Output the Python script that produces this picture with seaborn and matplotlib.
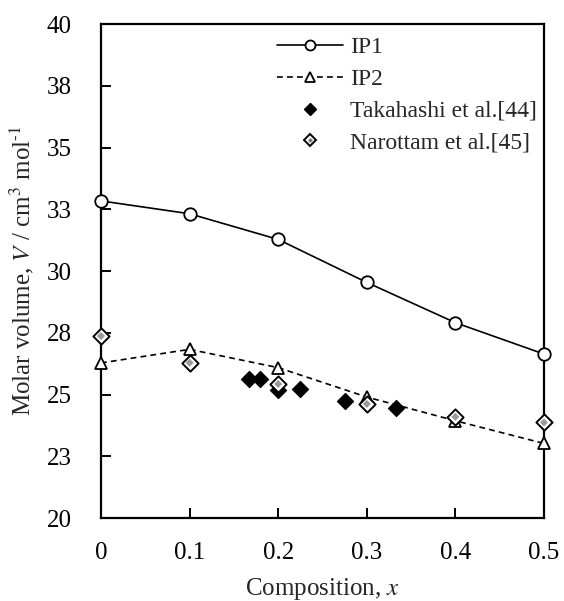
import matplotlib
matplotlib.use("Agg")
import matplotlib.pyplot as plt
from matplotlib.lines import Line2D
from matplotlib.legend_handler import HandlerTuple
import seaborn as sns
import pandas as pd

# Calculated molar volumes
composition = [0.0, 0.1, 0.2, 0.3, 0.4, 0.5]
ip1_volume = [32.84, 32.32, 31.28, 29.54, 27.91, 26.64]
ip2_volume = [26.28, 26.83, 26.09, 24.90, 23.94, 23.02]

# Experimental data
takahashi_x = [0.167, 0.180, 0.200, 0.225, 0.275, 0.333]
takahashi_v = [25.62, 25.62, 25.18, 25.22, 24.74, 24.44]
narottam_x = [0.0, 0.1, 0.2, 0.3, 0.4, 0.5]
narottam_v = [27.37, 26.29, 25.43, 24.62, 24.10, 23.87]

y_ticks = [20, 22.5, 25, 27.5, 30, 32.5, 35, 37.5, 40]
y_tick_labels = ["20", "23", "25", "28", "30", "33", "35", "38", "40"]
x_ticks = [0, 0.1, 0.2, 0.3, 0.4, 0.5]
x_tick_labels = ["0", "0.1", "0.2", "0.3", "0.4", "0.5"]

sns.set_style("ticks")
plt.rcParams["font.family"] = ["Liberation Serif", "DejaVu Serif"]
plt.rcParams["mathtext.fontset"] = "stix"

calc = pd.DataFrame({"x": composition, "ip1": ip1_volume, "ip2": ip2_volume})
taka = pd.DataFrame({"x": takahashi_x, "v": takahashi_v})
naro = pd.DataFrame({"x": narottam_x, "v": narottam_v})

fig = plt.figure(figsize=(5.64, 6.01), dpi=100)
ax = fig.add_axes([0.179, 0.138, 0.7855, 0.822])

sns.lineplot(data=calc, x="x", y="ip1", ax=ax, color="black", lw=1.2,
             marker="o", markersize=9, markerfacecolor="white",
             markeredgecolor="black", markeredgewidth=1.3, zorder=3,
             clip_on=False)
sns.lineplot(data=calc, x="x", y="ip2", ax=ax, color="black", lw=1.2,
             linestyle=(0, (3.5, 2.5)), marker="^", markersize=8.5,
             markerfacecolor="white", markeredgecolor="black",
             markeredgewidth=1.3, zorder=3, clip_on=False)
sns.scatterplot(data=taka, x="x", y="v", ax=ax, marker="D", s=68,
                color="black", edgecolor="black", linewidth=0.8, zorder=4,
                clip_on=False)
sns.scatterplot(data=naro, x="x", y="v", ax=ax, marker="D", s=68,
                color="white", edgecolor="black", linewidth=1.4, zorder=5,
                clip_on=False)
sns.scatterplot(data=naro, x="x", y="v", ax=ax, marker="D", s=17,
                color="#9a9a9a", edgecolor="none", zorder=6, clip_on=False)

ax.set_xlim(0, 0.5)
ax.set_ylim(20, 40)
ax.set_xticks(x_ticks)
ax.set_xticklabels(x_tick_labels)
ax.set_yticks(y_ticks)
ax.set_yticklabels(y_tick_labels)
ax.tick_params(axis="both", direction="in", length=7, width=1.4,
               labelsize=18, colors="black")
ax.tick_params(axis="y", pad=21)
ax.tick_params(axis="x", pad=17)
for side in ["left", "right", "top", "bottom"]:
    ax.spines[side].set_visible(True)
    ax.spines[side].set_linewidth(1.6)
    ax.spines[side].set_color("black")

ax.set_xlabel("Composition, $\\mathit{x}$", fontsize=18, labelpad=9)
ax.set_ylabel("Molar volume, $\\mathit{V}$ / cm$^{3}$ mol$^{\\text{-1}}$",
              fontsize=18, labelpad=8)

h_ip1 = Line2D([], [], color="black", lw=1.2, marker="o", markersize=7.2,
               markerfacecolor="white", markeredgewidth=1.3)
h_ip2 = Line2D([], [], color="black", lw=1.2, linestyle=(0, (3.5, 2.5)),
               marker="^", markersize=7.2, markerfacecolor="white",
               markeredgewidth=1.3)
h_taka = Line2D([], [], color="black", lw=0, marker="D", markersize=6,
                markerfacecolor="black")
h_naro_outer = Line2D([], [], color="black", lw=0, marker="D", markersize=6,
                      markerfacecolor="white", markeredgewidth=1.4)
h_naro_inner = Line2D([], [], lw=0, marker="D", markersize=2.6,
                      markerfacecolor="#7a7a7a", markeredgecolor="none")

ax.legend([h_ip1, h_ip2, h_taka, (h_naro_outer, h_naro_inner)],
          ["IP1", "IP2", "Takahashi et al.[44]", "Narottam et al.[45]"],
          handler_map={tuple: HandlerTuple(ndivide=1)},
          loc="upper left", bbox_to_anchor=(0.398, 0.974), frameon=False,
          fontsize=17, numpoints=1, handlelength=2.8, handletextpad=0.3,
          labelspacing=0.43, borderpad=0, borderaxespad=0)

fig.savefig("out.png", dpi=100)
